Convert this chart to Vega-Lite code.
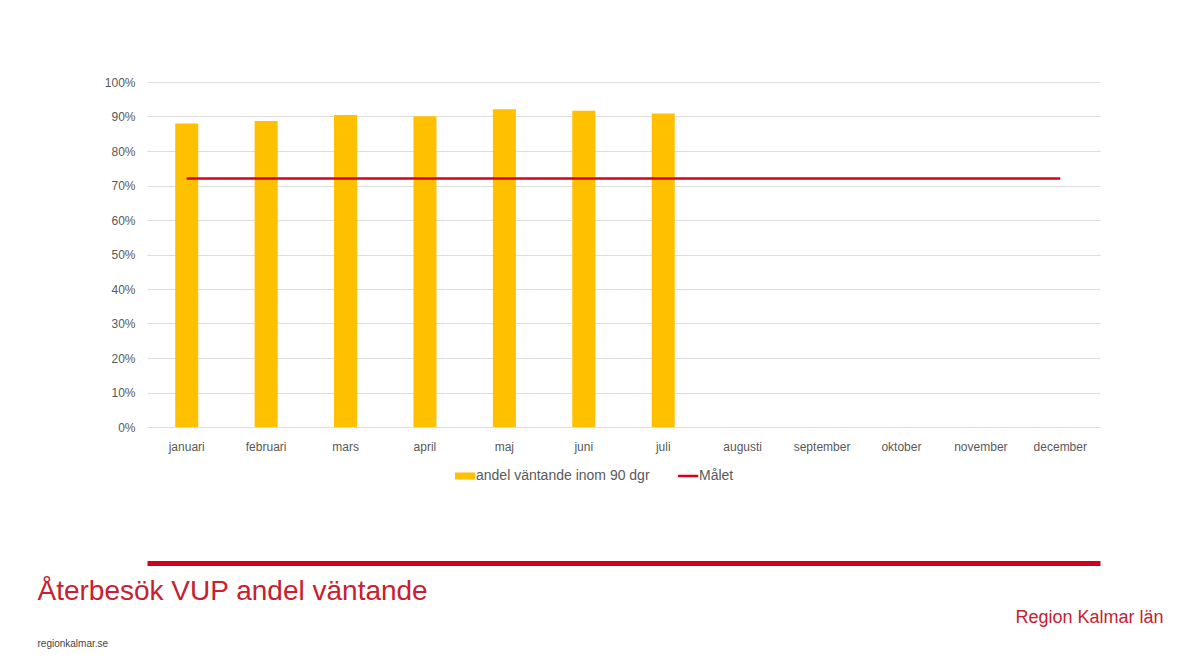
{
  "$schema": "https://vega.github.io/schema/vega-lite/v6.json",
  "width": 953,
  "height": 345,
  "autosize": {"type": "none"},
  "padding": {"left": 147, "top": 82, "right": 81, "bottom": 245},
  "background": "white",
  "config": {
    "font": "Liberation Sans",
    "view": {"stroke": null},
    "axis": {"labelFont": "Liberation Sans", "labelColor": "#595959", "labelFontSize": 12, "gridColor": "#DDDDDD", "gridWidth": 1, "ticks": false}
  },
  "data": {
    "values": [
      {"month": "januari", "andel": 0.880, "malet": 0.72},
      {"month": "februari", "andel": 0.887, "malet": 0.72},
      {"month": "mars", "andel": 0.904, "malet": 0.72},
      {"month": "april", "andel": 0.901, "malet": 0.72},
      {"month": "maj", "andel": 0.921, "malet": 0.72},
      {"month": "juni", "andel": 0.917, "malet": 0.72},
      {"month": "juli", "andel": 0.909, "malet": 0.72},
      {"month": "augusti", "andel": null, "malet": 0.72},
      {"month": "september", "andel": null, "malet": 0.72},
      {"month": "oktober", "andel": null, "malet": 0.72},
      {"month": "november", "andel": null, "malet": 0.72},
      {"month": "december", "andel": null, "malet": 0.72}
    ]
  },
  "resolve": {"axis": {"x": "independent", "y": "independent"}},
  "layer": [
    {
      "mark": {"type": "bar"},
      "encoding": {
        "x": {
          "field": "month", "type": "nominal", "sort": null,
          "scale": {"paddingInner": 0.71, "paddingOuter": 0.355},
          "axis": {"orient": "bottom", "title": "Återbesök VUP andel väntande", "titleX": -110, "titleY": 172, "titleAlign": "left", "titleAnchor": "start", "titleBaseline": "alphabetic", "titleColor": "#C8202F", "titleFont": "Liberation Sans", "titleFontSize": 28, "titleFontWeight": "normal", "labelAngle": 0, "labelPadding": 14, "domain": true, "domainColor": "#DDDDDD", "grid": false}
        },
        "y": {
          "field": "andel", "type": "quantitative",
          "scale": {"domain": [0, 1]},
          "axis": {"orient": "left", "title": "regionkalmar.se", "titleX": -110, "titleY": 564, "titleAngle": 0, "titleAlign": "left", "titleBaseline": "alphabetic", "titleColor": "#444444", "titleFont": "Liberation Sans", "titleFontSize": 10, "titleFontWeight": "normal", "format": ".0%", "values": [0, 0.1, 0.2, 0.3, 0.4, 0.5, 0.6, 0.7, 0.8, 0.9, 1], "domain": false, "grid": true, "labelPadding": 12}
        },
        "color": {
          "datum": "andel väntande inom 90 dgr",
          "scale": {"domain": ["andel väntande inom 90 dgr", "Målet"], "range": ["#FFC000", "#D9001E"]},
          "legend": {
            "title": null,
            "orient": "none",
            "direction": "horizontal",
            "legendX": 308,
            "legendY": 386,
            "symbolType": "stroke",
            "symbolSize": 700,
            "clipHeight": 16,
            "labelFont": "Liberation Sans",
            "labelFontSize": 14,
            "labelColor": "#595959",
            "labelOffset": 7,
            "labelLimit": 400,
            "columnPadding": 28,
            "encode": {
              "symbols": {
                "update": {
                  "strokeWidth": {"signal": "datum.value === 'Målet' ? 2.5 : 7"},
                  "stroke": {"signal": "scale('color', datum.value)"}
                }
              }
            }
          }
        }
      }
    },
    {
      "mark": {"type": "line", "strokeWidth": 2.5},
      "encoding": {
        "x": {
          "field": "month", "type": "nominal", "sort": null,
          "axis": {"orient": "bottom", "title": "Region Kalmar län", "titleX": 1016, "titleY": 59, "titleAlign": "right", "titleAnchor": "end", "titleBaseline": "alphabetic", "titleColor": "#C8202F", "titleFont": "Liberation Sans", "titleFontSize": 18, "titleFontWeight": "normal", "labels": false, "ticks": false, "grid": false, "domain": true, "domainColor": "#D0021B", "domainWidth": 5, "offset": 136}
        },
        "y": {"field": "malet", "type": "quantitative", "axis": null},
        "color": {"datum": "Målet"}
      }
    }
  ]
}
